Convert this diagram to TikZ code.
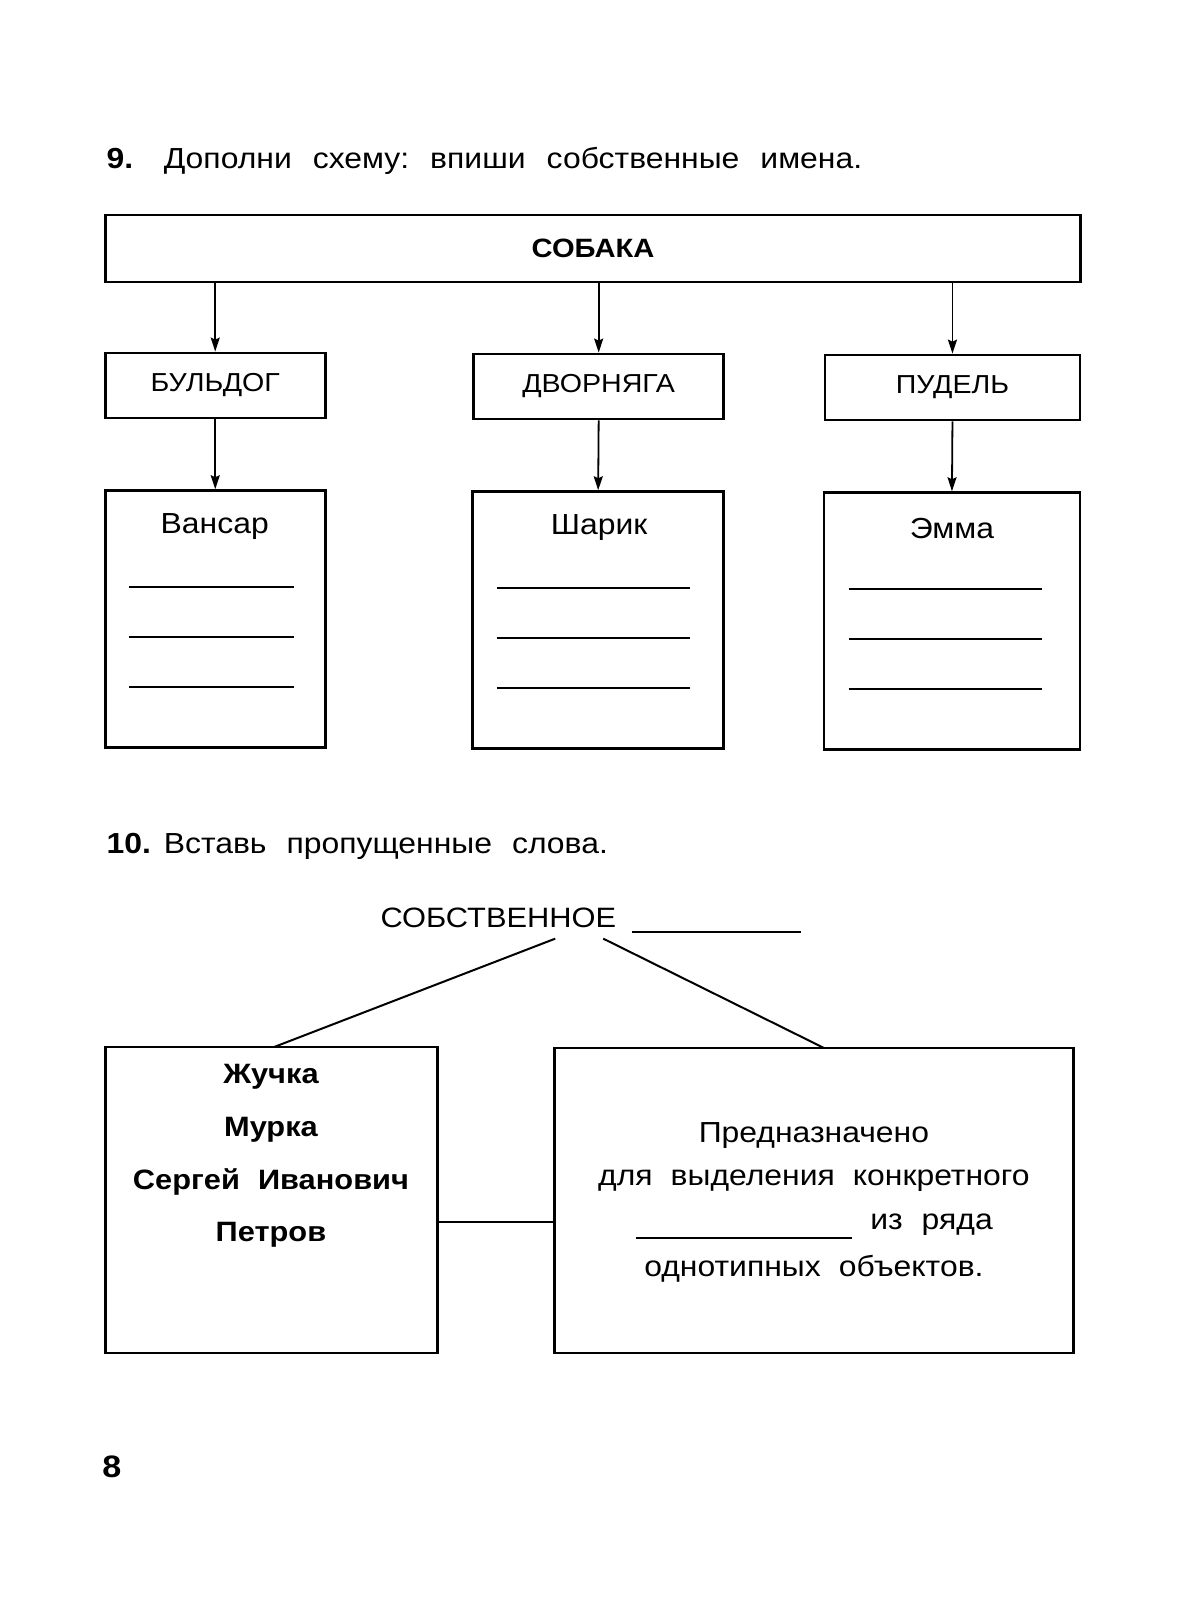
\documentclass[tikz,border=0pt]{standalone}
\usepackage{fontspec}
\setmainfont{Liberation Sans}[FakeStretch=1.1]
\usetikzlibrary{arrows.meta}
\newcommand\fsz[1]{\fontsize{#1}{#1}\selectfont}
\begin{document}
\begin{tikzpicture}[x=1.0225pt,y=-1.0225pt,
  box/.style={draw, line width=2.8pt, inner sep=0pt},
  arr/.style={line width=1.8pt, -{Stealth[length=14pt,width=9pt,inset=2pt]}},
  conn/.style={line width=2pt},
  blank/.style={line width=2pt},
  lbl/.style={inner sep=0pt, font=\fsz{29}},
  caps/.style={font=\fsz{26}},
  bword/.style={inner sep=0pt, font=\fsz{28}\bfseries},
  title/.style={inner sep=0pt, anchor=base west, font=\fsz{29}},
]
\useasboundingbox (0,0) rectangle (1173.6,1564.8);
% task 9
\node[title] (t9n) at (104,165) {\bfseries 9.};
\node[title] (t9) at (160,165) {Дополни\hspace{21pt}схему:\hspace{21pt}впиши\hspace{21pt}собственные\hspace{21pt}имена.};
\node[box, minimum width=975pt, minimum height=67pt, font=\fsz{26.5}\bfseries] (sob) at (580,243) {СОБАКА};
\node[box, caps, minimum width=220pt, minimum height=65pt] (bul) at (210.5,377) {БУЛЬДОГ};
\node[box, caps, minimum width=250pt, minimum height=65pt] (dvo) at (585.5,378) {ДВОРНЯГА};
\node[box, caps, minimum width=255pt, minimum height=65pt] (pud) at (931.5,379) {ПУДЕЛЬ};
\draw[arr] (sob.south -| bul.north) -- (bul.north);
\draw[arr] (sob.south -| dvo.north) -- (dvo.north);
\draw[arr] (sob.south -| pud.north) -- (pud.north);
\node[box, minimum width=220pt, minimum height=257pt] (b1) at (210.5,605.5) {};
\node[box, minimum width=251pt, minimum height=257pt] (b2) at (585,606.5) {};
\node[box, minimum width=256pt, minimum height=257pt] (b3) at (931,607.5) {};
\draw[arr] (bul.south) -- (b1.north);
\draw[arr] (dvo.south) -- (b2.north);
\draw[arr] (pud.south) -- (b3.north);
\node[lbl] (n1) at (210,515) {Вансар};
\node[lbl] (n2) at (586,516) {Шарик};
\node[lbl] (n3) at (931,517) {Эмма};
\foreach \y in {574,623,672} \draw[blank] (126,\y) -- (288,\y);
\foreach \y in {575,624,673} \draw[blank] (486,\y) -- (675,\y);
\foreach \y in {576,625,674} \draw[blank] (830,\y) -- (1019,\y);
% task 10
\node[title] (t10n) at (104,835) {\bfseries 10.};
\node[title] (t10) at (160,835) {Вставь\hspace{20pt}пропущенные\hspace{20pt}слова.};
\node[inner sep=0pt, anchor=base west, font=\fsz{28}] (sobst) at (372,907) {СОБСТВЕННОЕ};
\draw[blank] (618,911) -- (783,911);
\node[box, minimum width=332pt, minimum height=306pt] (lb) at (265.5,1173.5) {};
\node[box, minimum width=519pt, minimum height=305pt] (rb) at (796,1174) {};
\coordinate (s1) at (543,918);
\coordinate (s2) at (590,918);
\coordinate (e1) at (268,1024);
\coordinate (e2) at (806,1025);
\draw[conn] (s1) -- (e1);
\draw[conn] (s2) -- (e2);
\coordinate (cy) at (0,1195);
\draw[conn] (lb.east |- cy) -- (rb.west |- cy);
\node[bword] (w1) at (265,1053) {Жучка};
\node[bword] (w2) at (265,1105) {Мурка};
\node[bword] (w3) at (265,1156) {Сергей\hspace{18pt}Иванович};
\node[bword] (w4) at (265,1208) {Петров};
\node[lbl] (r1) at (796,1111) {Предназначено};
\node[lbl] (r2) at (796,1155) {для\hspace{18pt}выделения\hspace{18pt}конкретного};
\draw[blank] (622,1211) -- (833,1211);
\node[lbl] (r3) at (911,1198) {из\hspace{19pt}ряда};
\node[lbl] (r4) at (796,1241) {однотипных\hspace{18pt}объектов.};
\node[title, font=\fsz{31}\bfseries] (pg) at (100,1445) {8};
\end{tikzpicture}
\end{document}
